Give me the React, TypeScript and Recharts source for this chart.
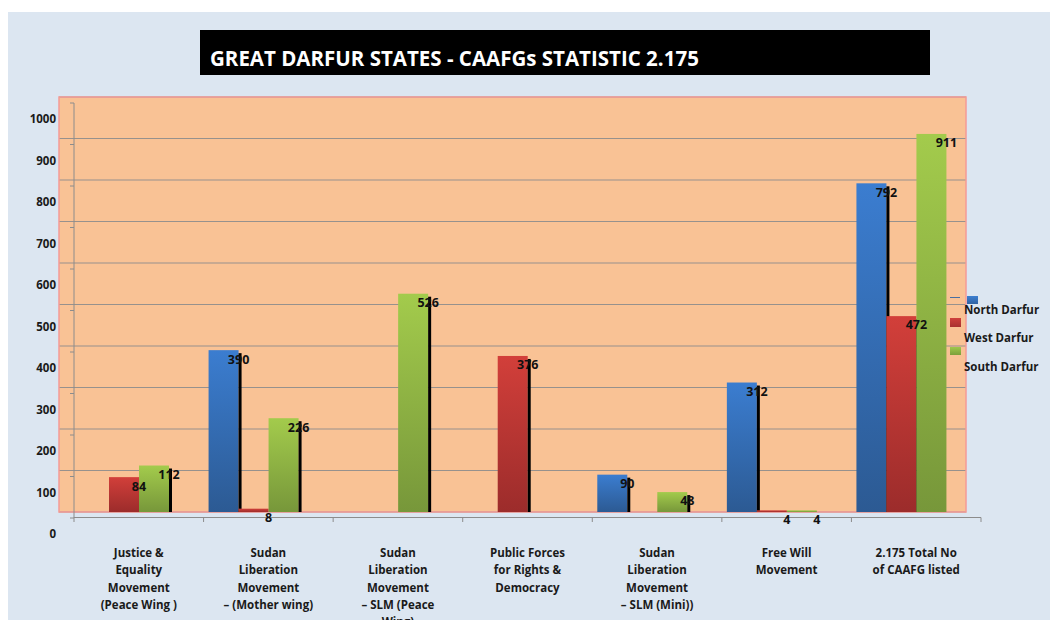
import React from "react";
import { BarChart, Bar, XAxis, YAxis, CartesianGrid, Legend, LabelList, ReferenceArea } from "recharts";

const categories = [
  "Justice &\nEquality\nMovement\n(Peace Wing )",
  "Sudan\nLiberation\nMovement\n– (Mother wing)",
  "Sudan\nLiberation\nMovement\n– SLM (Peace\nWing)",
  "Public Forces\nfor Rights &\nDemocracy",
  "Sudan\nLiberation\nMovement\n– SLM (Mini))",
  "Free Will\nMovement",
  "2.175 Total No\nof CAAFG listed",
];
const seriesNames = ["North Darfur", "West Darfur", "South Darfur"];
const northDarfur = [0, 390, 0, 0, 90, 312, 792];
const westDarfur = [84, 8, 0, 376, 0, 4, 472];
const southDarfur = [112, 226, 526, 0, 48, 4, 911];
const yTicks = [0, 100, 200, 300, 400, 500, 600, 700, 800, 900, 1000];
const titleText = "GREAT DARFUR STATES - CAAFGs STATISTIC 2.175";

const data = categories.map((name, i) => ({
  name,
  north: northDarfur[i],
  west: westDarfur[i],
  south: southDarfur[i],
}));

const FONT = "'Open Sans', 'DejaVu Sans', sans-serif";

const makeShape = (grad: string, skipIndex: number) => (props: any) => {
  const { x, y, width, height, index } = props;
  if (!height || height <= 0) return <g />;
  const showEdge = height > 8 && index !== skipIndex;
  return (
    <g>
      <rect x={x} y={y} width={width} height={height} fill={`url(#${grad})`} />
      {showEdge ? <rect x={x + width} y={y + 3} width={3} height={height - 3} fill="#000" /> : null}
    </g>
  );
};

const renderLabel = (props: any) => {
  const vb = props.viewBox || {};
  const x = props.x ?? vb.x;
  const y = props.y ?? vb.y;
  const width = props.width ?? vb.width;
  const value = props.value;
  if (!value) return null;
  return (
    <text
      x={x + width}
      y={y + 9}
      dy="0.35em"
      textAnchor="middle"
      fontSize={12.5}
      fontWeight={700}
      fontFamily={FONT}
      fill="#111"
    >
      {value}
    </text>
  );
};

const YTick = (props: any) => {
  const { x, y, payload } = props;
  return (
    <text x={x} y={y + 22} dy="0.35em" textAnchor="end" fontSize={11.5} fontWeight={700} fontFamily={FONT} fill="#1a1a1a">
      {payload.value}
    </text>
  );
};

const XTick = (props: any) => {
  const { x, y, payload, index, visibleTicksCount } = props;
  const half = payload && typeof payload.offset === "number" && payload.offset > 0 ? payload.offset : 64.8;
  const lines = String(payload.value).split("\n");
  const last = index === (visibleTicksCount ?? categories.length) - 1;
  return (
    <g>
      <line x1={x - half} x2={x - half} y1={y + 5.5} y2={y + 10} stroke="#8c8c8c" />
      {last ? <line x1={x + half} x2={x + half} y1={y + 5.5} y2={y + 10} stroke="#8c8c8c" /> : null}
      <text x={x} y={y + 45} textAnchor="middle" fontSize={11.5} fontWeight={700} fontFamily={FONT} fill="#1a1a1a">
        {lines.map((l, i) => (
          <tspan key={i} x={x} dy={i === 0 ? 0 : 17.3}>
            {l}
          </tspan>
        ))}
      </text>
    </g>
  );
};

const legendPos = [
  { sq: { left: 17, top: 0, width: 11, height: 8 }, text: { left: 14, top: 6 }, grad: "linear-gradient(#3d7fd0,#2f62a3)" },
  { sq: { left: 0, top: 22, width: 11, height: 9 }, text: { left: 14, top: 34 }, grad: "linear-gradient(#cf403c,#a93130)" },
  { sq: { left: 0, top: 51, width: 11, height: 8 }, text: { left: 14, top: 63 }, grad: "linear-gradient(#9fc84b,#7d9f3c)" },
];

const renderLegend = (props: any) => {
  const items = (props.payload || [])
    .filter((p: any) => p.type !== "none" && seriesNames.includes(p.value))
    .sort((a: any, b: any) => seriesNames.indexOf(a.value) - seriesNames.indexOf(b.value));
  return (
    <div style={{ position: "relative", width: 110, height: 80 }}>
      <div style={{ position: "absolute", left: 0, top: 1, width: 10, height: 1, background: "#4a6fa0" }} />
      {items.map((it: any, i: number) => {
        const p = legendPos[i] || legendPos[0];
        return (
          <React.Fragment key={i}>
            <div style={{ position: "absolute", ...p.sq, background: p.grad }} />
            <div
              style={{
                position: "absolute",
                ...p.text,
                whiteSpace: "nowrap",
                fontFamily: FONT,
                fontWeight: 700,
                fontSize: 11.5,
                lineHeight: "16px",
                color: "#1a1a1a",
              }}
            >
              {it.value}
            </div>
          </React.Fragment>
        );
      })}
    </div>
  );
};

const css = `
.recharts-cartesian-grid { transform: translateX(-15px); }
.recharts-yAxis .recharts-cartesian-axis-line,
.recharts-yAxis .recharts-cartesian-axis-tick-line { transform: translateY(6px); }
.recharts-xAxis .recharts-cartesian-axis-line { transform: translateY(5.5px); }
`;

export default function App() {
  return (
    <div
      style={{
        marginTop: 4,
        width: 1050,
        height: 608,
        background: "#dce6f1",
        position: "relative",
        overflow: "hidden",
      }}
    >
      <style>{css}</style>
      <svg width={0} height={0} style={{ position: "absolute" }}>
        <defs>
          <linearGradient id="gNorth" x1="0" y1="0" x2="0" y2="1">
            <stop offset="0%" stopColor="#3b7dd0" />
            <stop offset="100%" stopColor="#2c5a93" />
          </linearGradient>
          <linearGradient id="gWest" x1="0" y1="0" x2="0" y2="1">
            <stop offset="0%" stopColor="#d23f3a" />
            <stop offset="100%" stopColor="#9c2c2b" />
          </linearGradient>
          <linearGradient id="gSouth" x1="0" y1="0" x2="0" y2="1">
            <stop offset="0%" stopColor="#a3cb4c" />
            <stop offset="100%" stopColor="#77973a" />
          </linearGradient>
        </defs>
      </svg>
      <div
        style={{
          position: "absolute",
          left: 192,
          top: 18,
          width: 730,
          height: 45,
          background: "#000",
          color: "#fff",
          fontFamily: FONT,
          fontWeight: 700,
          fontSize: 20.5,
          boxSizing: "border-box",
          paddingLeft: 10,
          paddingTop: 15,
          lineHeight: "26px",
          whiteSpace: "nowrap",
          overflow: "hidden",
        }}
      >
        {titleText}
      </div>
      <BarChart
        width={1050}
        height={608}
        data={data}
        margin={{ top: 85, right: 77, left: 0, bottom: 0 }}
        barSize={30}
        barGap={0}
      >
        <CartesianGrid vertical={false} fill="#f9c295" fillOpacity={1} stroke="#8c8c8c" strokeOpacity={0.9} />
        <ReferenceArea
          y1={0}
          y2={1000}
          ifOverflow="visible"
          shape={(p: any) => (
            <rect x={p.x - 15} y={p.y} width={p.width} height={p.height} fill="none" stroke="#f49a96" strokeWidth={1.5} />
          )}
        />
        <XAxis
          dataKey="name"
          height={108}
          tickLine={false}
          tickSize={0}
          tickMargin={0}
          axisLine={{ stroke: "#8c8c8c" }}
          tick={<XTick />}
          interval={0}
        />
        <YAxis
          type="number"
          domain={[0, 1000]}
          ticks={yTicks}
          width={66}
          tickSize={4}
          tickMargin={14}
          axisLine={{ stroke: "#8c8c8c" }}
          tickLine={{ stroke: "#8c8c8c" }}
          tick={<YTick />}
          interval={0}
        />
        <Legend
          layout="vertical"
          align="center"
          verticalAlign="middle"
          content={renderLegend}
          wrapperStyle={{ position: "absolute", left: 942, top: 284, width: 110, height: 80 }}
        />
        <Bar dataKey="north" name={seriesNames[0]} fill="#3b7dd0" isAnimationActive={false} shape={makeShape("gNorth", -1)}>
          <LabelList dataKey="north" content={renderLabel} />
        </Bar>
        <Bar dataKey="west" name={seriesNames[1]} fill="#d23f3a" isAnimationActive={false} shape={makeShape("gWest", -1)}>
          <LabelList dataKey="west" content={renderLabel} />
        </Bar>
        <Bar dataKey="south" name={seriesNames[2]} fill="#a3cb4c" isAnimationActive={false} shape={makeShape("gSouth", categories.length - 1)}>
          <LabelList dataKey="south" content={renderLabel} />
        </Bar>
        <Bar dataKey="pad" legendType="none" isAnimationActive={false} />
      </BarChart>
    </div>
  );
}
